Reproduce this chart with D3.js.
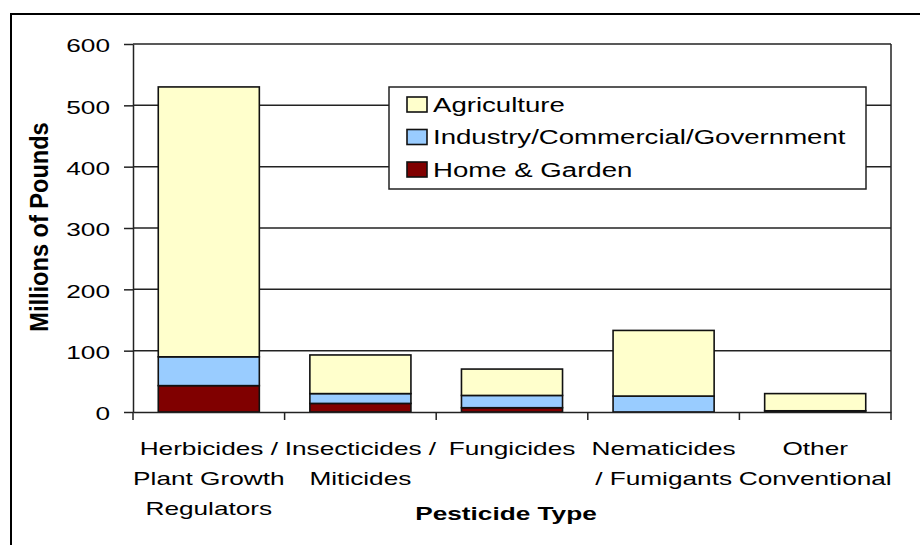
<!DOCTYPE html>
<html>
<head>
<meta charset="utf-8">
<script src="https://cdn.jsdelivr.net/npm/d3@7"></script>
<style>
  body { margin: 0; background: #fff; }
  svg text { font-family: "Liberation Sans", Arial, sans-serif; fill: #000; }
</style>
</head>
<body>
<svg id="chart" width="920" height="545"></svg>
<script>
const categories = ["Herbicides", "Insecticides", "Fungicides", "Nematicides", "Other"];
const categoryLines = [
    ["Herbicides /", "Plant Growth", "Regulators"],
    ["Insecticides /", "Miticides"],
    ["Fungicides"],
    ["Nematicides", "/ Fumigants"],
    ["Other", "Conventional"]
];
const homeGarden = [43, 14, 7, 0, 2];
const industry = [47, 16, 20, 26, 0];
const agriculture = [440, 63, 43, 107, 28];
const yTicks = [0, 100, 200, 300, 400, 500, 600];
const seriesNames = ["Agriculture", "Industry/Commercial/Government", "Home & Garden"];

const sx = 1.38; // the picture is stretched sideways, so the text is too

const plotLeft = 133, plotRight = 891, plotTop = 44, plotBottom = 412;
const colors = { home: "#800000", industry: "#99CCFF", agriculture: "#FFFFCC" };

const rows = categories.map((c, i) => ({
    cat: c,
    home: homeGarden[i],
    industry: industry[i],
    agriculture: agriculture[i]
}));

const svg = d3.select("#chart");

// outer frame (only top and left fall inside the picture)
svg.append("path")
    .attr("d", `M11,545 V14 H920`)
    .attr("fill", "none")
    .attr("stroke", "#000")
    .attr("stroke-width", 2);

const x = d3.scaleBand()
    .domain(categories)
    .range([plotLeft, plotRight])
    .paddingInner(1 / 3)
    .paddingOuter(1 / 6);

const y = d3.scaleLinear()
    .domain([0, 600])
    .range([plotBottom, plotTop]);

// gridlines
svg.append("g")
    .selectAll("line")
    .data(yTicks.filter(d => d > 0))
    .enter().append("line")
    .attr("x1", plotLeft).attr("x2", plotRight)
    .attr("y1", d => y(d)).attr("y2", d => y(d))
    .attr("stroke", "#222")
    .attr("stroke-width", 1.5);

// right edge of plot
svg.append("line")
    .attr("x1", plotRight).attr("x2", plotRight)
    .attr("y1", plotTop).attr("y2", plotBottom)
    .attr("stroke", "#222")
    .attr("stroke-width", 1.5);

// stacked bars
const stack = d3.stack().keys(["home", "industry", "agriculture"]);
const layers = stack(rows);

svg.append("g")
    .selectAll("g")
    .data(layers)
    .enter().append("g")
    .attr("fill", d => colors[d.key])
    .selectAll("rect")
    .data(d => d.filter(p => p[1] - p[0] > 0))
    .enter().append("rect")
    .attr("x", d => x(d.data.cat))
    .attr("width", x.bandwidth())
    .attr("y", d => y(d[1]))
    .attr("height", d => y(d[0]) - y(d[1]))
    .attr("stroke", "#111")
    .attr("stroke-width", 1.6);

// y axis
const yAxis = svg.append("g")
    .attr("transform", `translate(${plotLeft},0)`)
    .call(d3.axisLeft(y).tickValues(yTicks).tickSize(9).tickSizeOuter(0));
yAxis.select(".domain").attr("stroke", "#222").attr("stroke-width", 1.5);
yAxis.selectAll(".tick line").attr("stroke", "#222").attr("stroke-width", 1.5);
yAxis.selectAll(".tick text")
    .attr("x", null)
    .attr("dy", "0.36em")
    .attr("transform", `translate(-23,1) scale(${sx},1)`)
    .attr("text-anchor", "end")
    .style("font-size", "19px")
    .style("font-family", "'Liberation Sans', Arial, sans-serif")
    .attr("fill", "#000");

// x axis: baseline and boundary ticks
const xAxis = svg.append("g")
    .attr("transform", `translate(0,${plotBottom})`)
    .call(d3.axisBottom(x).tickSize(0).tickFormat(""));
xAxis.select(".domain").attr("stroke", "#222").attr("stroke-width", 1.5);

const gap = x.step() - x.bandwidth();
const bounds = categories.map(c => x(c) - gap / 2).concat([plotRight]);
svg.append("g")
    .selectAll("line")
    .data(bounds)
    .enter().append("line")
    .attr("x1", d => d).attr("x2", d => d)
    .attr("y1", plotBottom).attr("y2", plotBottom + 8)
    .attr("stroke", "#222")
    .attr("stroke-width", 1.5);

// category labels
const catG = svg.append("g")
    .selectAll("g")
    .data(categories)
    .enter().append("g");
catG.selectAll("text")
    .data((c, i) => categoryLines[i].map((t, j) => ({ t, j, c })))
    .enter().append("text")
    .attr("text-anchor", "middle")
    .attr("transform", d => `translate(${x(d.c) + x.bandwidth() / 2},${455 + d.j * 30}) scale(${sx},1)`)
    .style("font-size", "19px")
    .text(d => d.t);

// axis titles
svg.append("text")
    .attr("text-anchor", "middle")
    .attr("transform", `translate(506,520) scale(${sx},1)`)
    .style("font-size", "19px")
    .style("font-weight", "bold")
    .text("Pesticide Type");

svg.append("text")
    .attr("text-anchor", "middle")
    .attr("transform", `translate(48,227) rotate(-90) scale(1.24,1.32)`)
    .style("font-size", "19px")
    .style("font-weight", "bold")
    .text("Millions of Pounds");

// legend
const legend = svg.append("g").attr("transform", "translate(389,87)");
legend.append("rect")
    .attr("width", 477).attr("height", 102)
    .attr("fill", "#fff")
    .attr("stroke", "#222")
    .attr("stroke-width", 1.5);

const legendKeys = ["agriculture", "industry", "home"];
const item = legend.selectAll(".item")
    .data(seriesNames)
    .enter().append("g")
    .attr("class", "item")
    .attr("transform", (d, i) => `translate(0,${17.5 + i * 32.5})`);
item.append("rect")
    .attr("x", 18).attr("y", -7.5)
    .attr("width", 20).attr("height", 15)
    .attr("fill", (d, i) => colors[legendKeys[i]])
    .attr("stroke", "#111")
    .attr("stroke-width", 1.6);
item.append("text")
    .attr("transform", `translate(44,0) scale(${sx},1)`)
    .attr("dy", "0.36em")
    .style("font-size", "20px")
    .text(d => d);
</script>
</body>
</html>
